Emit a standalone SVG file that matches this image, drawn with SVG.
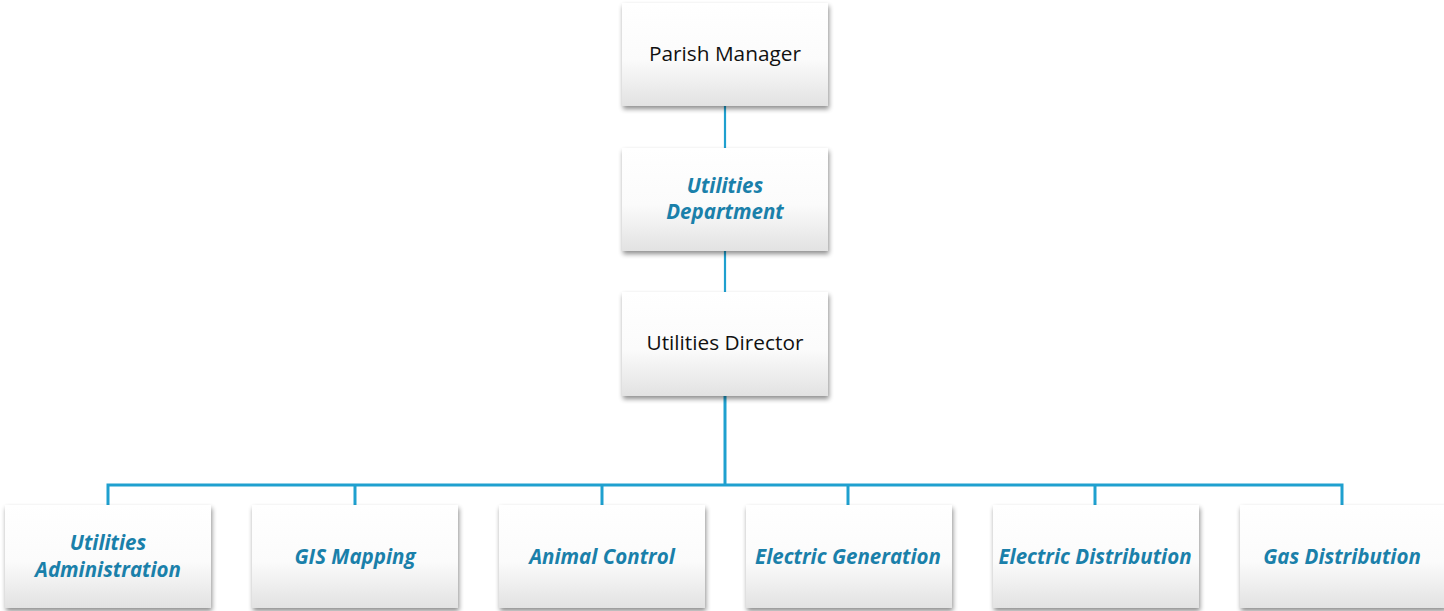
<svg xmlns="http://www.w3.org/2000/svg" width="1444" height="611" viewBox="0 0 1444 611">
<defs>
<linearGradient id="g" x1="0" y1="0" x2="0" y2="1">
<stop offset="0" stop-color="#ffffff"/>
<stop offset="0.55" stop-color="#fbfbfb"/>
<stop offset="1" stop-color="#e2e2e2"/>
</linearGradient>
<filter id="sh" x="-10%" y="-10%" width="125%" height="130%">
<feGaussianBlur in="SourceAlpha" stdDeviation="2.5"/>
<feOffset dx="1" dy="3" result="b"/>
<feComponentTransfer><feFuncA type="linear" slope="0.45"/></feComponentTransfer>
<feMerge><feMergeNode/><feMergeNode in="SourceGraphic"/></feMerge>
</filter>
</defs>
<style>
.box{fill:url(#g);filter:url(#sh)}
.t{font-family:"Open Sans","Liberation Sans",sans-serif;font-size:20.8px;fill:#111;text-anchor:middle}
.b{font-family:"Open Sans","Liberation Sans",sans-serif;font-size:20.5px;font-weight:bold;font-style:italic;fill:#1a80aa;text-anchor:middle}
.c{stroke:#1fa0cf;fill:none;stroke-width:3}
.c2{stroke:#1fa0cf;fill:none;stroke-width:2.2}
</style>
<rect width="1444" height="611" fill="#ffffff"/>
<g id="connectors">
<line class="c2" x1="725" y1="106" x2="725" y2="148"/>
<line class="c2" x1="725" y1="251" x2="725" y2="292"/>
<line class="c" x1="725" y1="396" x2="725" y2="485"/>
<polyline class="c" points="108,505 108,485 1342,485 1342,505"/>
<line class="c" x1="355" y1="485" x2="355" y2="505"/>
<line class="c" x1="602" y1="485" x2="602" y2="505"/>
<line class="c" x1="848" y1="485" x2="848" y2="505"/>
<line class="c" x1="1095" y1="485" x2="1095" y2="505"/>
</g>
<g id="parish-manager"><rect class="box" x="622" y="3" width="206" height="103"/><text class="t" x="725" y="61">Parish Manager</text></g>
<g id="utilities-department"><rect class="box" x="622" y="148" width="206" height="103"/><text class="b" x="725" y="193">Utilities</text><text class="b" x="725" y="219">Department</text></g>
<g id="utilities-director"><rect class="box" x="622" y="292" width="206" height="104"/><text class="t" x="725" y="350">Utilities Director</text></g>
<g id="utilities-administration"><rect class="box" x="5" y="505" width="206" height="103"/><text class="b" x="108" y="550">Utilities</text><text class="b" x="108" y="577">Administration</text></g>
<g id="gis-mapping"><rect class="box" x="252" y="505" width="206" height="103"/><text class="b" x="355" y="564">GIS Mapping</text></g>
<g id="animal-control"><rect class="box" x="499" y="505" width="206" height="103"/><text class="b" x="602" y="564">Animal Control</text></g>
<g id="electric-generation"><rect class="box" x="746" y="505" width="206" height="103"/><text class="b" x="848" y="564">Electric Generation</text></g>
<g id="electric-distribution"><rect class="box" x="993" y="505" width="206" height="103"/><text class="b" x="1095" y="564">Electric Distribution</text></g>
<g id="gas-distribution"><rect class="box" x="1240" y="505" width="206" height="103"/><text class="b" x="1342" y="564">Gas Distribution</text></g>
</svg>
